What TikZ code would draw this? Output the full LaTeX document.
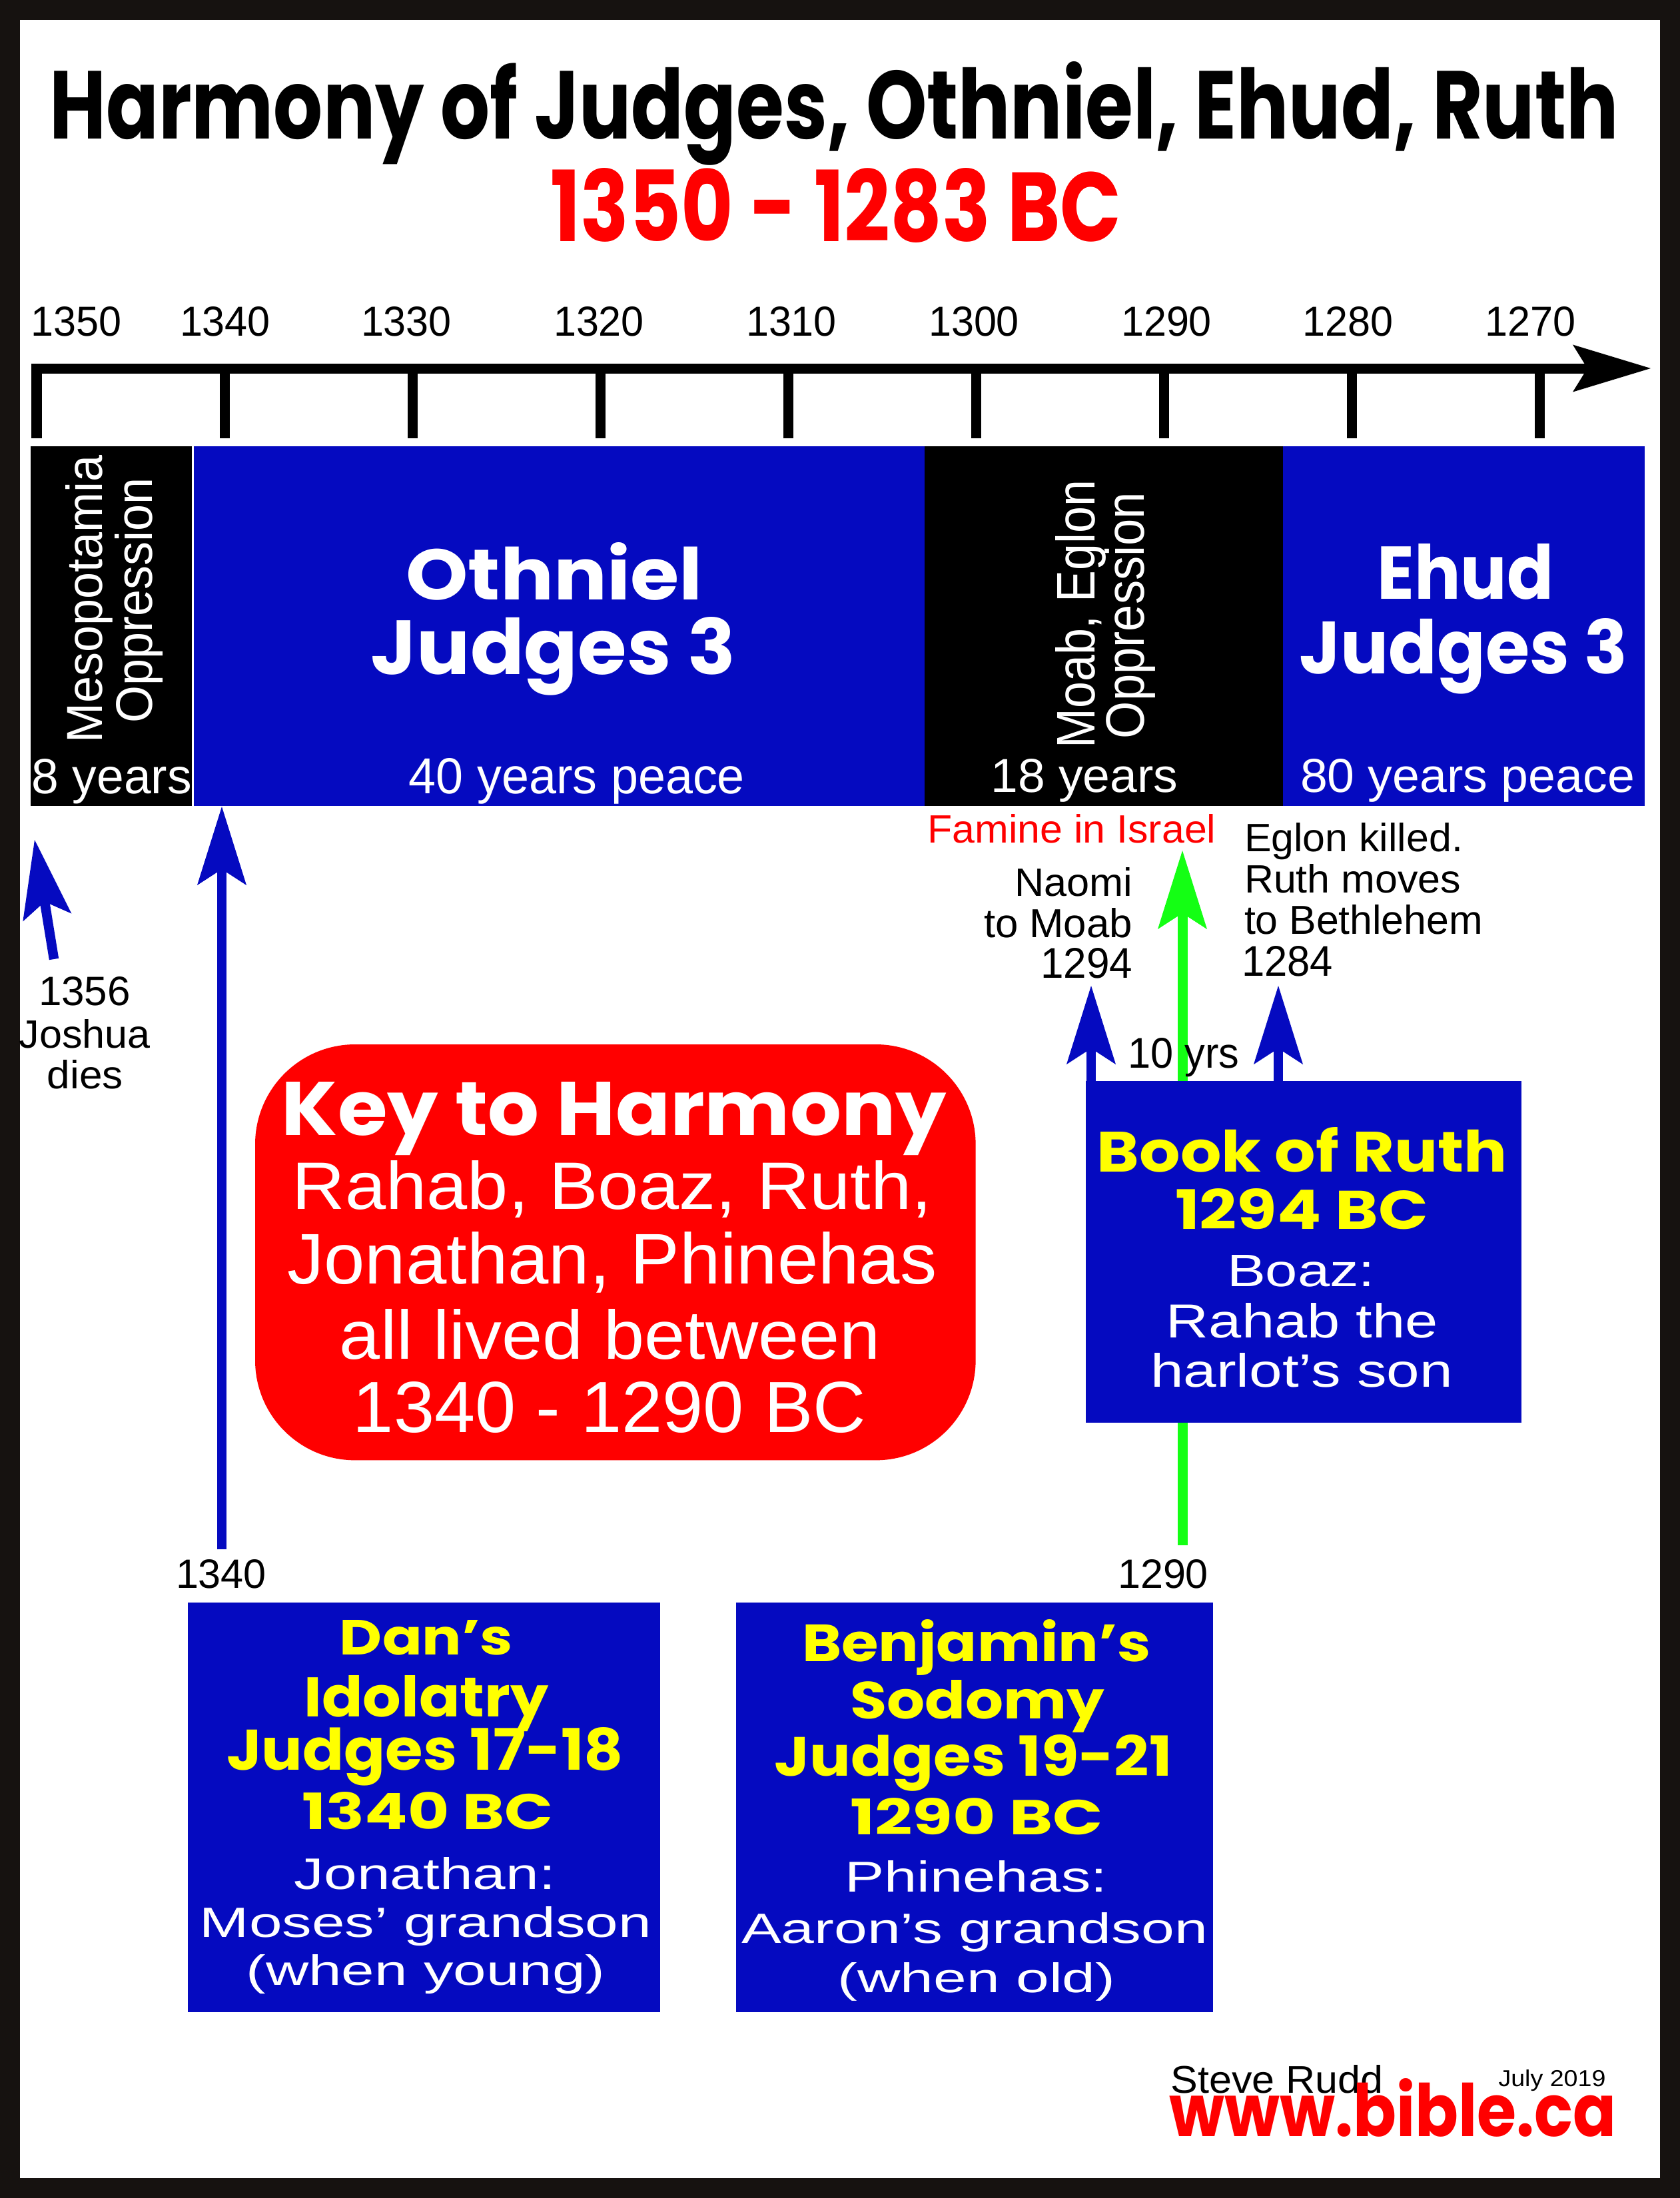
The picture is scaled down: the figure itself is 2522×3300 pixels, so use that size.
\documentclass[tikz,border=0pt]{standalone}
\usepackage{fontspec}
\usepackage{graphicx}
\setmainfont{Liberation Sans}
\newfontfamily\rndfont{Poppins}
\usetikzlibrary{arrows.meta}
\newlength{\PXu}\setlength{\PXu}{0.01cm}
\newcommand{\fitt}[3]{\resizebox{#1\PXu}{#2\PXu}{#3}}
\newcommand{\RB}{\rndfont\bfseries}
\definecolor{jblue}{RGB}{5,10,192}
\definecolor{jred}{RGB}{255,0,0}
\definecolor{jyellow}{RGB}{255,255,0}
\definecolor{jgreen}{RGB}{20,255,20}
\definecolor{jframe}{RGB}{22,18,16}
\begin{document}
\begin{tikzpicture}[x=0.01cm,y=-0.01cm,
  txt/.style={inner sep=0pt,outer sep=0pt,anchor=base},
  bar/.style={inner sep=0pt,outer sep=0pt,anchor=north west,draw=none},
  tickline/.style={draw=black,line width=0.15cm},
  axisline/.style={draw=black,line width=0.15cm,-{Stealth[length=1.17cm,width=0.71cm,inset=0.22cm,line width=0pt]}},
  bluearr/.style={draw=jblue,line width=0.145cm,-{Stealth[length=1.18cm,width=0.74cm,inset=0.24cm,line width=0pt]}},
  greenarr/.style={draw=jgreen,line width=0.15cm,-{Stealth[length=1.18cm,width=0.74cm,inset=0.24cm,line width=0pt]}}]
\useasboundingbox (0,0) rectangle (2522,3300);
\fill[jframe] (0,0) rectangle (2522,3300);
\fill[white] (30,30) rectangle (2492,3270);

% title
\node[txt] (title) at (1252,208) {\fitt{2355}{116}{\RB Harmony of Judges, Othniel, Ehud, Ruth}};
\node[txt,text=jred] (subtitle) at (1255,362) {\fitt{857}{110}{\RB 1350 - 1283 BC}};

% year labels
\node[txt] (y1350) at (115,504) {\fitt{136}{44}{1350}};
\node[txt] (y1340) at (338,504) {\fitt{136}{44}{1340}};
\node[txt] (y1330) at (610,504) {\fitt{136}{44}{1330}};
\node[txt] (y1320) at (899,504) {\fitt{136}{44}{1320}};
\node[txt] (y1310) at (1188,504) {\fitt{136}{44}{1310}};
\node[txt] (y1300) at (1462,504) {\fitt{136}{44}{1300}};
\node[txt] (y1290) at (1751,504) {\fitt{136}{44}{1290}};
\node[txt] (y1280) at (2023,504) {\fitt{136}{44}{1280}};
\node[txt] (y1270) at (2297,504) {\fitt{136}{44}{1270}};

% axis
\draw[axisline] (47.5,553) -- (2478,553);
\foreach \xx in {55,337,619,901,1183,1465,1747,2029,2311}
  \draw[tickline] (\xx,546) -- (\xx,658);

% period bars
\node[bar,fill=black,minimum width=2.42cm,minimum height=5.40cm] (meso) at (46,670) {};
\node[bar,fill=jblue,minimum width=10.97cm,minimum height=5.40cm] (othniel) at (291,670) {};
\node[bar,fill=black,minimum width=5.38cm,minimum height=5.40cm] (moab) at (1388,670) {};
\node[bar,fill=jblue,minimum width=5.43cm,minimum height=5.40cm] (ehud) at (1926,670) {};

\node[txt,rotate=90,text=white] (mesoA) at (153,899) {\fitt{432}{55}{Mesopotamia}};
\node[txt,rotate=90,text=white] (mesoB) at (228,901) {\fitt{368}{56}{Oppression}};
\node[txt,text=white] (mesoY) at (168,1191) {\fitt{240}{52}{8 years}};

\node[txt,text=white] (othA) at (832,900) {\fitt{445}{86}{\RB Othniel}};
\node[txt,text=white] (othB) at (831,1012) {\fitt{548}{86}{\RB Judges 3}};
\node[txt,text=white] (othY) at (866,1191) {\fitt{504}{53}{40 years peace}};

\node[txt,rotate=90,text=white] (moabA) at (1643,922) {\fitt{403}{59}{Moab, Eglon}};
\node[txt,rotate=90,text=white] (moabB) at (1717,924) {\fitt{370}{59}{Oppression}};
\node[txt,text=white] (moabY) at (1628,1189) {\fitt{281}{50}{18 years}};

\node[txt,text=white] (ehudA) at (2200,899) {\fitt{265}{83}{\RB Ehud}};
\node[txt,text=white] (ehudB) at (2197,1011) {\fitt{493}{83}{\RB Judges 3}};
\node[txt,text=white] (ehudY) at (2203,1189) {\fitt{502}{50}{80 years peace}};

% annotations under bars
\node[txt,text=jred] (famine) at (1609,1265) {\fitt{433}{43}{Famine in Israel}};
\node[txt,anchor=base west] (eglA) at (1868,1278) {\fitt{328}{43}{Eglon killed.}};
\node[txt,anchor=base west] (eglB) at (1868,1340) {\fitt{325}{43}{Ruth moves}};
\node[txt,anchor=base west] (eglC) at (1868,1402) {\fitt{358}{44}{to Bethlehem}};
\node[txt,anchor=base west] (eglD) at (1864,1465) {\fitt{137}{45}{1284}};
\node[txt,anchor=base east] (naoA) at (1700,1345) {\fitt{177}{43}{Naomi}};
\node[txt,anchor=base east] (naoB) at (1700,1407) {\fitt{223}{44}{to Moab}};
\node[txt,anchor=base east] (naoC) at (1700,1468) {\fitt{138}{45}{1294}};

% left: Joshua dies
\node[txt] (josA) at (127,1509) {\fitt{138}{43}{1356}};
\node[txt] (josB) at (127,1573) {\fitt{197}{43}{Joshua}};
\node[txt] (josC) at (128,1634) {\fitt{114}{43}{dies}};
\coordinate (jtail) at (81,1440);
\coordinate (jtip) at (52,1261);
\draw[bluearr] (jtail) -- (jtip);

% 1340 long arrow
\coordinate (a1340b) at (333,2326);
\coordinate (a1340t) at (333,1211);
\draw[bluearr] (a1340b) -- (a1340t);
\node[txt] (lbl1340) at (332,2384) {\fitt{136}{43}{1340}};

% key box
\node[bar,fill=jred,rounded corners=1.5cm,minimum width=10.81cm,minimum height=6.24cm] (keybox) at (383,1568) {};
\node[txt,text=white] (keyA) at (922,1704) {\fitt{998}{80}{\RB Key to Harmony}};
\node[txt,text=white] (keyB) at (919,1815) {\fitt{960}{73}{Rahab, Boaz, Ruth,}};
\node[txt,text=white] (keyC) at (919,1927) {\fitt{975}{78}{Jonathan, Phinehas}};
\node[txt,text=white] (keyD) at (916,2040) {\fitt{812}{75}{all lived between}};
\node[txt,text=white] (keyE) at (915,2150) {\fitt{770}{76}{1340 - 1290 BC}};

% green arrow (behind Ruth box)
\coordinate (gtail) at (1775,2320);
\coordinate (gtip) at (1775,1277);
\draw[greenarr] (gtail) -- (gtip);
\node[txt] (lbl1290) at (1746,2384) {\fitt{136}{43}{1290}};

% Book of Ruth box
\node[bar,fill=jblue,minimum width=6.54cm,minimum height=5.13cm] (ruthbox) at (1630,1623) {};
\node[txt,text=jyellow] (ruthA) at (1955,1759) {\fitt{616}{67}{\RB Book of Ruth}};
\node[txt,text=jyellow] (ruthB) at (1954,1845) {\fitt{380}{61}{\RB 1294 BC}};
\node[txt,text=white] (ruthC) at (1953,1931) {\fitt{222}{47}{Boaz:}};
\node[txt,text=white] (ruthD) at (1955,2008) {\fitt{408}{52}{Rahab the}};
\node[txt,text=white] (ruthE) at (1954,2082) {\fitt{454}{51}{harlot’s son}};

\coordinate (naotip) at (1638,1480);
\coordinate (egltip) at (1919,1480);
\draw[bluearr] (naotip |- ruthbox.north) -- (naotip);
\draw[bluearr] (egltip |- ruthbox.north) -- (egltip);
\node[txt] (tenyrs) at (1777,1603) {\fitt{167}{45}{10 yrs}};

% Dan's box
\node[bar,fill=jblue,minimum width=7.09cm,minimum height=6.15cm] (danbox) at (282,2406) {};
\node[txt,text=jyellow] (danA) at (640,2484) {\fitt{260}{52}{\RB Dan’s}};
\node[txt,text=jyellow] (danB) at (640,2577) {\fitt{367}{62}{\RB Idolatry}};
\node[txt,text=jyellow] (danC) at (638,2657) {\fitt{596}{64}{\RB Judges 17-18}};
\node[txt,text=jyellow] (danD) at (642,2746) {\fitt{377}{56}{\RB 1340 BC}};
\node[txt,text=white] (danE) at (638,2836) {\fitt{392}{48}{Jonathan:}};
\node[txt,text=white] (danF) at (639,2908) {\fitt{678}{46}{Moses’ grandson}};
\node[txt,text=white] (danG) at (639,2980) {\fitt{539}{46}{(when young)}};

% Benjamin's box
\node[bar,fill=jblue,minimum width=7.16cm,minimum height=6.15cm] (benbox) at (1105,2406) {};
\node[txt,text=jyellow] (benA) at (1466,2494) {\fitt{524}{63}{\RB Benjamin’s}};
\node[txt,text=jyellow] (benB) at (1467,2580) {\fitt{382}{58}{\RB Sodomy}};
\node[txt,text=jyellow] (benC) at (1461,2666) {\fitt{597}{62}{\RB Judges 19-21}};
\node[txt,text=jyellow] (benD) at (1466,2754) {\fitt{380}{55}{\RB 1290 BC}};
\node[txt,text=white] (benE) at (1465,2840) {\fitt{394}{47}{Phinehas:}};
\node[txt,text=white] (benF) at (1463,2917) {\fitt{700}{46}{Aaron’s grandson}};
\node[txt,text=white] (benG) at (1466,2991) {\fitt{417}{45}{(when old)}};

% footer
\node[txt] (steve) at (1917,3142) {\fitt{319}{42}{Steve Rudd}};
\node[txt] (july) at (2330,3132) {\fitt{161}{25}{July 2019}};
\node[txt,text=jred] (site) at (2091,3207) {\fitt{671}{87}{\RB www.bible.ca}};
\end{tikzpicture}
\end{document}
